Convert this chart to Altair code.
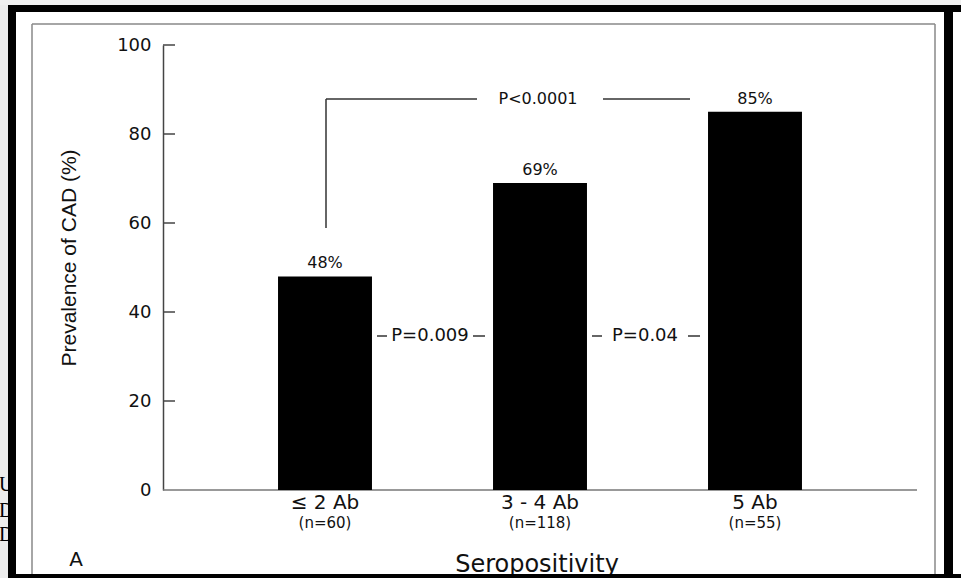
import altair as alt
import pandas as pd

# ---- data ----
categories = ["≤ 2 Ab", "3 - 4 Ab", "5 Ab"]
n_labels = ["(n=60)", "(n=118)", "(n=55)"]
prevalence = [48, 69, 85]
value_labels = ["48%", "69%", "85%"]
y_ticks = [0, 20, 40, 60, 80, 100]
inner_ticks = [20, 40, 60, 80, 100]

df = pd.DataFrame({"cat": categories, "n": n_labels, "val": prevalence, "lab": value_labels})
tick_df = pd.DataFrame({"t": inner_ticks})
one = pd.DataFrame({"a": [0]})

W, H = 754, 445
OX, OY = 163, 45


def px(x):
    return x - OX


def py(y):
    return y - OY


SANS = "DejaVu Sans"
TXT = "#111111"

xenc = alt.X("cat:N", sort=categories,
             scale=alt.Scale(paddingInner=0.563, paddingOuter=0.535), axis=None)
yscale = alt.Scale(domain=[0, 100], nice=False, zero=True)
yaxis = alt.Axis(values=y_ticks, ticks=False, labelFont=SANS, labelFontSize=18,
                 labelColor=TXT, labelPadding=12, domainColor="#444", domainWidth=1.5,
                 grid=False, title=None, labelFlush=False)
yenc = alt.Y("val:Q", scale=yscale, axis=yaxis)

base = alt.Chart(df)
annot = alt.Chart(one)


def rect(x1, x2, y1, y2, color):
    return annot.mark_rect(color=color).encode(
        x=alt.value(px(x1)), x2=alt.value(px(x2)),
        y=alt.value(py(y1)), y2=alt.value(py(y2)))


def hline(x1, x2, y, color="#333", w=1.5):
    return annot.mark_rule(color=color, strokeWidth=w).encode(
        x=alt.value(px(x1)), x2=alt.value(px(x2)), y=alt.value(py(y)))


def vline(x, y1, y2, color="#333", w=1.5):
    return annot.mark_rule(color=color, strokeWidth=w).encode(
        x=alt.value(px(x)), y=alt.value(py(y1)), y2=alt.value(py(y2)))


def label(text, x, y, size, font=SANS, align="center", baseline="middle", angle=0, color=TXT):
    kw = dict(font=font, fontSize=size, align=align, baseline=baseline, color=color)
    if angle:
        kw["angle"] = angle
    return annot.mark_text(**kw).encode(
        x=alt.value(px(x)), y=alt.value(py(y)), text=alt.value(text))


# backgrounds outside the scanned page
bg_left = rect(0, 8, 0, 578, "#ececec")
bg_top = rect(0, 961, 0, 5, "#f0f0f0")
left_letters = alt.layer(
    label("U", -1, 485, 20, font="Liberation Serif", align="left", color="#000"),
    label("D", -1, 511, 20, font="Liberation Serif", align="left", color="#000"),
    label("D", -1, 535, 20, font="Liberation Serif", align="left", color="#000"),
)

# frame of the figure
frame = alt.layer(
    hline(32, 935, 24, color="#888", w=1.5),
    vline(32, 24, 574, color="#888", w=1.5),
    vline(935, 24, 574, color="#888", w=1.5),
)

# x axis line
xaxis_line = hline(163, 917, 490, color="#777", w=1.5)

bars = base.mark_bar(color="black").encode(x=xenc, y=yenc)

ticks = alt.Chart(tick_df).mark_rule(color="#444", strokeWidth=1.5).encode(
    x=alt.value(0), x2=alt.value(12), y=alt.Y("t:Q", scale=yscale, axis=yaxis))

vals = base.mark_text(dy=-8, baseline="alphabetic", font=SANS, fontSize=16, color=TXT).encode(
    x=xenc, y=yenc, text="lab:N")

cat_text = base.mark_text(font=SANS, fontSize=20, baseline="middle", color=TXT).encode(
    x=xenc, y=alt.value(py(503)), text="cat:N")
n_text = base.mark_text(font=SANS, fontSize=15, baseline="middle", color=TXT).encode(
    x=xenc, y=alt.value(py(523)), text="n:N")

x_title = label("Seropositivity", 537, 565, 24)
y_title = label("Prevalence of CAD (%)", 70, 258, 21, font="Liberation Sans", angle=270)
panel = label("A", 76, 560, 20)

# significance annotations
bracket = alt.layer(
    vline(326, 99, 228),
    hline(326, 477, 99),
    hline(603, 690, 99),
    label("P<0.0001", 538, 99, 16),
)
p1 = alt.layer(
    hline(377, 387, 336),
    label("P=0.009", 430, 336, 18),
    hline(473, 485, 336),
)
p2 = alt.layer(
    hline(592, 602, 336),
    label("P=0.04", 645, 336, 18),
    hline(688, 700, 336),
)

# black scan borders (on top)
borders = alt.layer(
    rect(8, 961, 5, 12, "black"),
    rect(8, 16, 5, 578, "black"),
    rect(944, 953, 5, 578, "black"),
    rect(8, 961, 574, 578, "black"),
)

chart = alt.layer(
    bg_left, bg_top, left_letters, frame, xaxis_line, bars, ticks, vals,
    cat_text, n_text, x_title, y_title, panel, bracket, p1, p2, borders,
).resolve_scale(x="shared", y="shared").properties(
    width=W, height=H,
    autosize=alt.AutoSizeParams(type="none"),
    padding={"left": OX, "top": OY, "right": 961 - OX - W, "bottom": 578 - OY - H},
    background="white",
).configure_view(stroke=None)

chart.save("out.html", embed_options={"renderer": "svg", "actions": False})
